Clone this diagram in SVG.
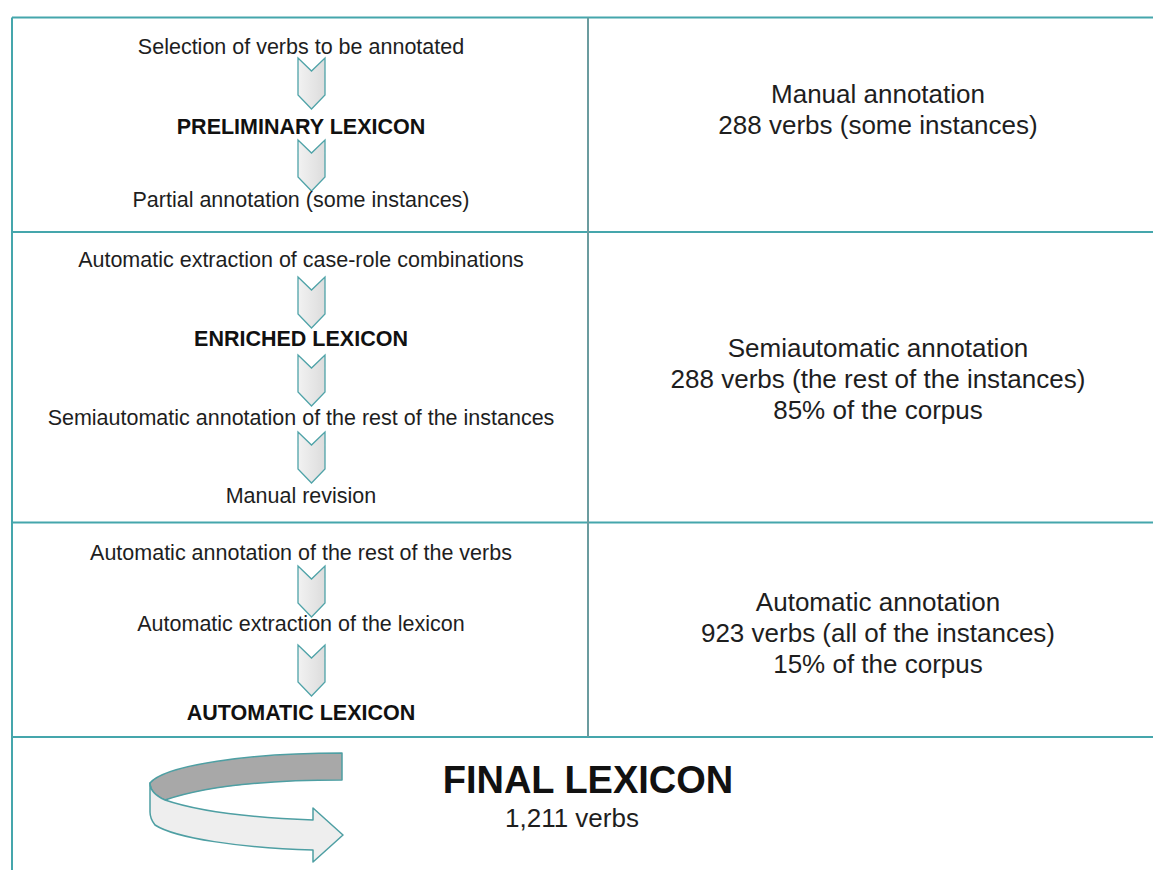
<svg xmlns="http://www.w3.org/2000/svg" xmlns:xlink="http://www.w3.org/1999/xlink" width="1153" height="870" viewBox="0 0 1153 870">
<style>
.grid{stroke:#45a6ac;stroke-width:2;fill:none}
.div{stroke:#6b9c9f;stroke-width:2;fill:none}
.l{font-family:"Liberation Sans",Arial,sans-serif;font-size:21.5px;fill:#1e1e1e;text-anchor:middle}
.lb{font-family:"Liberation Sans",Arial,sans-serif;font-size:21.5px;font-weight:bold;fill:#111;text-anchor:middle}
.r{font-family:"Liberation Sans",Arial,sans-serif;font-size:26px;fill:#1e1e1e;text-anchor:middle}
.chev{fill:url(#cg);stroke:#4fa3a8;stroke-width:1.3;stroke-linejoin:miter}
.band{stroke:#4e9fa3;stroke-width:1.5;stroke-linejoin:round}
</style>
<defs>
<linearGradient id="cg" x1="0" y1="0" x2="1" y2="0">
<stop offset="0" stop-color="#f2f2f2"/>
<stop offset="1" stop-color="#dcdcdc"/>
</linearGradient>
<path id="chev" d="M0,0 L13.5,13 L27,0 L27,37 L13.5,51 L0,37 Z"/>
</defs>
<rect width="1153" height="870" fill="#ffffff"/>
<g id="grid">
<line class="grid" x1="12" y1="17.5" x2="1153" y2="17.5"/>
<line class="grid" x1="12" y1="232" x2="1153" y2="232"/>
<line class="grid" x1="12" y1="522.5" x2="1153" y2="522.5"/>
<line class="grid" x1="12" y1="737" x2="1153" y2="737"/>
<line class="grid" x1="12" y1="17.5" x2="12" y2="870"/>
<line class="div" x1="588" y1="17.5" x2="588" y2="737"/>
</g>
<g id="connectors">
<use xlink:href="#chev" class="chev" x="298" y="58"/>
<use xlink:href="#chev" class="chev" x="298" y="140"/>
<use xlink:href="#chev" class="chev" x="298" y="277"/>
<use xlink:href="#chev" class="chev" x="298" y="355"/>
<use xlink:href="#chev" class="chev" x="298" y="432"/>
<use xlink:href="#chev" class="chev" x="298" y="566"/>
<use xlink:href="#chev" class="chev" x="298" y="645"/>
</g>
<g id="n-selection"><text class="l" x="301" y="54">Selection of verbs to be annotated</text></g>
<g id="n-preliminary"><text class="lb" x="301" y="134">PRELIMINARY LEXICON</text></g>
<g id="n-partial"><text class="l" x="301" y="207">Partial annotation (some instances)</text></g>
<g id="n-extraction"><text class="l" x="301" y="267">Automatic extraction of case-role combinations</text></g>
<g id="n-enriched"><text class="lb" x="301" y="346">ENRICHED LEXICON</text></g>
<g id="n-semiauto"><text class="l" x="301" y="425">Semiautomatic annotation of the rest of the instances</text></g>
<g id="n-revision"><text class="l" x="301" y="503">Manual revision</text></g>
<g id="n-autoannot"><text class="l" x="301" y="560">Automatic annotation of the rest of the verbs</text></g>
<g id="n-autoextract"><text class="l" x="301" y="631">Automatic extraction of the lexicon</text></g>
<g id="n-autolex"><text class="lb" x="301" y="720">AUTOMATIC LEXICON</text></g>
<g id="n-manual">
<text class="r" x="878" y="103">Manual annotation</text>
<text class="r" x="878" y="134">288 verbs (some instances)</text>
</g>
<g id="n-semi">
<text class="r" x="878" y="357">Semiautomatic annotation</text>
<text class="r" x="878" y="388">288 verbs (the rest of the instances)</text>
<text class="r" x="878" y="419">85% of the corpus</text>
</g>
<g id="n-auto">
<text class="r" x="878" y="611">Automatic annotation</text>
<text class="r" x="878" y="642">923 verbs (all of the instances)</text>
<text class="r" x="878" y="673">15% of the corpus</text>
</g>
<g id="final-arrow">
<path class="band" fill="#a8a8a8" d="M150,783 C165,765 250,753 342,753 L342,780 C260,780 200,788 165,800 C156,796 150,790 150,783 Z"/>
<path class="band" fill="#eeeeee" d="M150,783 C150,790 156,796 165,800 C200,812 260,818 313,820 L313,808 L343,835 L313,862 L313,850 C240,848 175,838 155,825 C151,820 150,815 150,812 Z"/>
</g>
<g id="n-final">
<text x="588" y="793" font-family="'Liberation Sans',Arial,sans-serif" font-size="38" font-weight="bold" fill="#111" text-anchor="middle">FINAL LEXICON</text>
<text x="505" y="827" font-family="'Liberation Sans',Arial,sans-serif" font-size="26" fill="#1e1e1e">1,211 verbs</text>
</g>
</svg>
